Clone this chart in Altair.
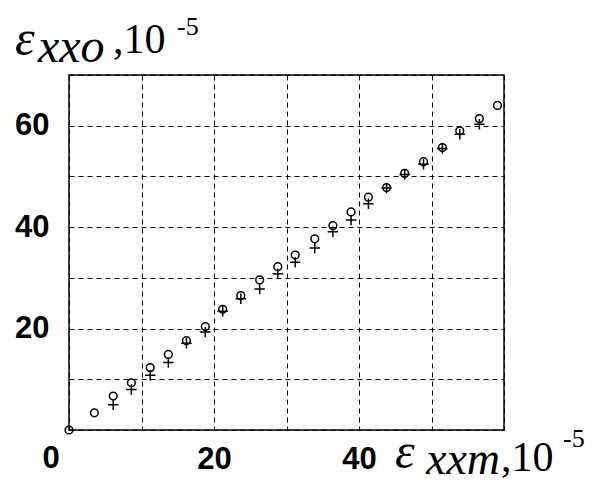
import altair as alt
import pandas as pd

# circle series (o)
circ_x = [0, 3.5, 6.1, 8.6, 11.2, 13.7, 16.2, 18.8, 21.2, 23.7, 26.3, 28.8, 31.2,
          33.9, 36.4, 38.9, 41.3, 43.8, 46.3, 48.9, 51.5, 53.9, 56.6, 59.1]
circ_y = [0, 3.4, 6.7, 9.3, 12.3, 14.9, 17.6, 20.4, 23.8, 26.5, 29.6, 32.2, 34.5,
          37.7, 40.3, 43.0, 45.9, 47.8, 50.6, 52.9, 55.7, 59.0, 61.4, 64.0]
# cross series (+)
cross_x = [6.1, 8.6, 11.2, 13.7, 16.2, 18.8, 21.2, 23.7, 26.3, 28.8, 31.2,
           33.9, 36.4, 38.9, 41.3, 43.8, 46.3, 48.9, 51.5, 53.9, 56.6]
cross_y = [5.0, 8.0, 10.8, 13.3, 17.1, 19.3, 23.4, 25.9, 27.8, 30.8, 33.1,
           35.9, 39.1, 41.4, 44.6, 47.7, 50.4, 52.4, 55.5, 58.3, 60.3]

grid_vals = [0, 10, 20, 30, 40, 50, 60, 70]
x_labels = [20, 40]
y_labels = [20, 40, 60]

circ_df = pd.DataFrame({"x": circ_x, "y": circ_y})
cross_df = pd.DataFrame({"x": cross_x, "y": cross_y})

xs = alt.Scale(domain=[0, 60], nice=False)
ys = alt.Scale(domain=[0, 70], nice=False)

xlab = " || ".join(f"datum.value == {v}" for v in x_labels)
ylab = " || ".join(f"datum.value == {v}" for v in y_labels)

base_axis = dict(grid=True, gridColor="black", gridDash=[5, 4], gridWidth=1,
                 ticks=False, domain=False, labelFont="Liberation Sans",
                 labelFontWeight="bold", labelFontSize=31, labelColor="black",
                 title=None)

x_enc = alt.X("x:Q", scale=xs,
              axis=alt.Axis(values=grid_vals[:-1], labelExpr=f"({xlab}) ? datum.label : ''",
                            labelPadding=14, labelBaseline="top", **base_axis))
y_enc = alt.Y("y:Q", scale=ys,
              axis=alt.Axis(values=grid_vals, labelExpr=f"({ylab}) ? datum.label : ''",
                            labelPadding=20, **base_axis))

circles = alt.Chart(circ_df).mark_point(
    shape="circle", filled=False, color="black", size=60, strokeWidth=1.5, opacity=1
).encode(x=x_enc, y=y_enc)

crosses = alt.Chart(cross_df).mark_point(
    shape="M-1,0H1M0,-1V1", filled=False, color="black", size=110, strokeWidth=1.5, opacity=1
).encode(x="x:Q", y="y:Q")

zero_df = pd.DataFrame({"x": [0], "y": [0], "t": ["0"]})
zero = alt.Chart(zero_df).mark_text(
    font="Liberation Sans", fontWeight="bold", fontSize=31, color="black",
    baseline="top", align="center", dx=-18, dy=14
).encode(x="x:Q", y="y:Q", text="t:N")


def label(txt, px, py, size, italic=False):
    return alt.Chart(pd.DataFrame({"t": [txt]})).mark_text(
        font="Liberation Serif", fontSize=size, color="black",
        fontStyle="italic" if italic else "normal",
        align="left", baseline="alphabetic"
    ).encode(x=alt.value(px), y=alt.value(py), text="t:N")


titles = [
    label("ε", -54, -20, 50, True),
    label("xxo", -31, -13, 48, True),
    label(",10", 44, -22, 42),
    label("-5", 108, -40, 26),
    label("ε", 326, 393, 50, True),
    label("xxm", 357, 399, 46, True),
    label(",10", 432, 396, 42),
    label("-5", 494, 372, 26),
]

chart = alt.layer(circles, crosses, zero, *titles).properties(
    width=435, height=355,
    padding={"left": 61, "top": 67, "right": 84, "bottom": 51},
    autosize=alt.AutoSizeParams(type="none"),
    background="white",
).configure_view(stroke="black", strokeWidth=1.5)

chart.save("out.html", embed_options={"renderer": "svg", "actions": False})
